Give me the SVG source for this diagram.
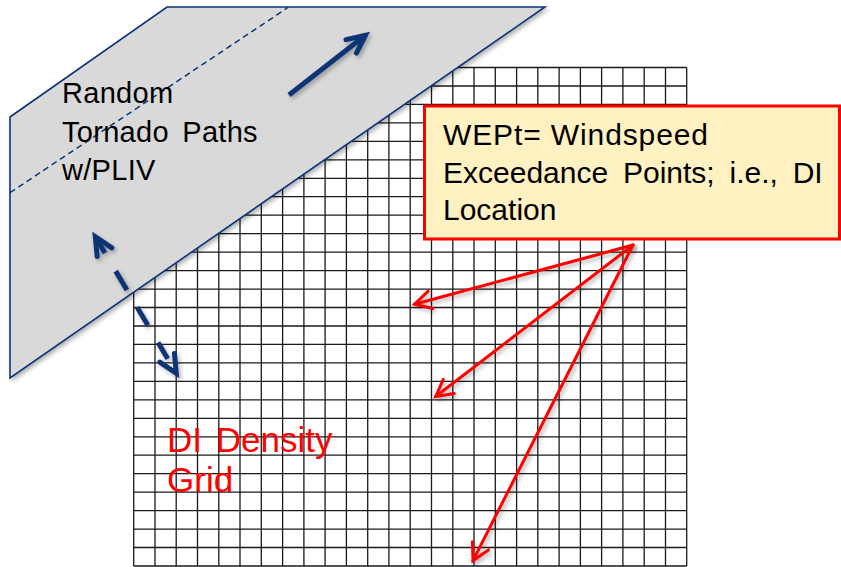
<svg xmlns="http://www.w3.org/2000/svg" width="841" height="567" viewBox="0 0 841 567">
<style>
.grid{fill:none;stroke:#1a1a1a;stroke-width:1.3}
.para{fill:#d9d9d9;stroke:#0b3576;stroke-width:1.6}
.pdash{fill:none;stroke:#0b3576;stroke-width:1.5;stroke-dasharray:6 4}
.lbl{font-family:"Liberation Sans",Arial,sans-serif;fill:#000}
.box{fill:#fff1c1;stroke:#ff0000;stroke-width:3}
.red{fill:none;stroke:#ff0000;stroke-width:3;stroke-linecap:round;marker-end:url(#redHead)}
.navy{fill:none;stroke:#0b3576;stroke-width:5}
</style>
<defs>
<filter id="sh" filterUnits="userSpaceOnUse" x="0" y="0" width="841" height="567">
<feDropShadow dx="2" dy="2.5" stdDeviation="2" flood-color="#000" flood-opacity="0.3"/>
</filter>
<marker id="redHead" markerUnits="userSpaceOnUse" viewBox="-30 -20 40 40" markerWidth="40" markerHeight="40" refX="0" refY="0" orient="auto" overflow="visible">
<path d="M-16.5,-9 L0,0 L-16.5,9" fill="none" stroke="#ff0000" stroke-width="3" stroke-linecap="round" stroke-linejoin="miter" stroke-dasharray="none"/>
</marker>
<marker id="navyHead" markerUnits="userSpaceOnUse" viewBox="-30 -20 40 40" markerWidth="40" markerHeight="40" refX="0" refY="0" orient="auto-start-reverse" overflow="visible">
<path d="M-18,-8.5 L0,0 L-18,8.5" fill="none" stroke="#0b3576" stroke-width="5" stroke-linecap="round" stroke-linejoin="miter" stroke-dasharray="none"/>
</marker>
</defs>

<g id="density-grid">
<path class="grid" d="M133.7,67.5V566M155,67.5V566M176.2,67.5V566M197.5,67.5V566M218.8,67.5V566M240,67.5V566M261.3,67.5V566M282.6,67.5V566M303.9,67.5V566M325.1,67.5V566M346.4,67.5V566M367.7,67.5V566M388.9,67.5V566M410.2,67.5V566M431.5,67.5V566M452.8,67.5V566M474,67.5V566M495.3,67.5V566M516.6,67.5V566M537.8,67.5V566M559.1,67.5V566M580.4,67.5V566M601.6,67.5V566M622.9,67.5V566M644.2,67.5V566M665.5,67.5V566M686.7,67.5V566
M133.7,67.5H686.7M133.7,86H686.7M133.7,104.4H686.7M133.7,122.9H686.7M133.7,141.4H686.7M133.7,159.8H686.7M133.7,178.3H686.7M133.7,196.7H686.7M133.7,215.2H686.7M133.7,233.7H686.7M133.7,252.1H686.7M133.7,270.6H686.7M133.7,289.1H686.7M133.7,307.5H686.7M133.7,326H686.7M133.7,344.4H686.7M133.7,362.9H686.7M133.7,381.4H686.7M133.7,399.8H686.7M133.7,418.3H686.7M133.7,436.8H686.7M133.7,455.2H686.7M133.7,473.7H686.7M133.7,492.2H686.7M133.7,510.6H686.7M133.7,529.1H686.7M133.7,547.5H686.7M133.7,566H686.7"/>
</g>

<g id="tornado-paths">
<polygon class="para" filter="url(#sh)" points="10,117 167,7 545,7 10,378"/>
<line class="pdash" x1="10" y1="192.7" x2="288" y2="7.5"/>
<text class="lbl" font-size="29" word-spacing="5" letter-spacing="0.3"><tspan x="62" y="103.3">Random</tspan><tspan x="62" y="141.7">Tornado Paths</tspan><tspan x="62" y="180">w/PLIV</tspan></text>
</g>

<g id="wept-box">
<rect class="box" x="424.5" y="106" width="415" height="133"/>
<text class="lbl" font-size="30"><tspan x="443" y="145" textLength="265" lengthAdjust="spacing">WEPt= Windspeed</tspan><tspan x="443" y="182.7" word-spacing="6.5">Exceedance Points; i.e., DI</tspan><tspan x="443" y="220">Location</tspan></text>
</g>

<g id="di-density-grid">
<text class="lbl" font-size="35" style="fill:#ff0000" word-spacing="4"><tspan x="167" y="451.7">DI Density</tspan><tspan x="167" y="491.7">Grid</tspan></text>
</g>

<g id="connectors">
<line class="navy" filter="url(#sh)" x1="289" y1="95" x2="365.4" y2="35.3" marker-end="url(#navyHead)"/>
<line class="navy" filter="url(#sh)" x1="95.3" y1="236.7" x2="176.3" y2="373.3" stroke-dasharray="19 21 22 20 21 20 19 60" marker-start="url(#navyHead)" marker-end="url(#navyHead)"/>
<line class="red" filter="url(#sh)" x1="633" y1="245" x2="414.6" y2="304.2"/>
<line class="red" filter="url(#sh)" x1="633" y1="245" x2="435.7" y2="396.5"/>
<line class="red" filter="url(#sh)" x1="633" y1="245" x2="473" y2="560.6"/>
</g>
</svg>
